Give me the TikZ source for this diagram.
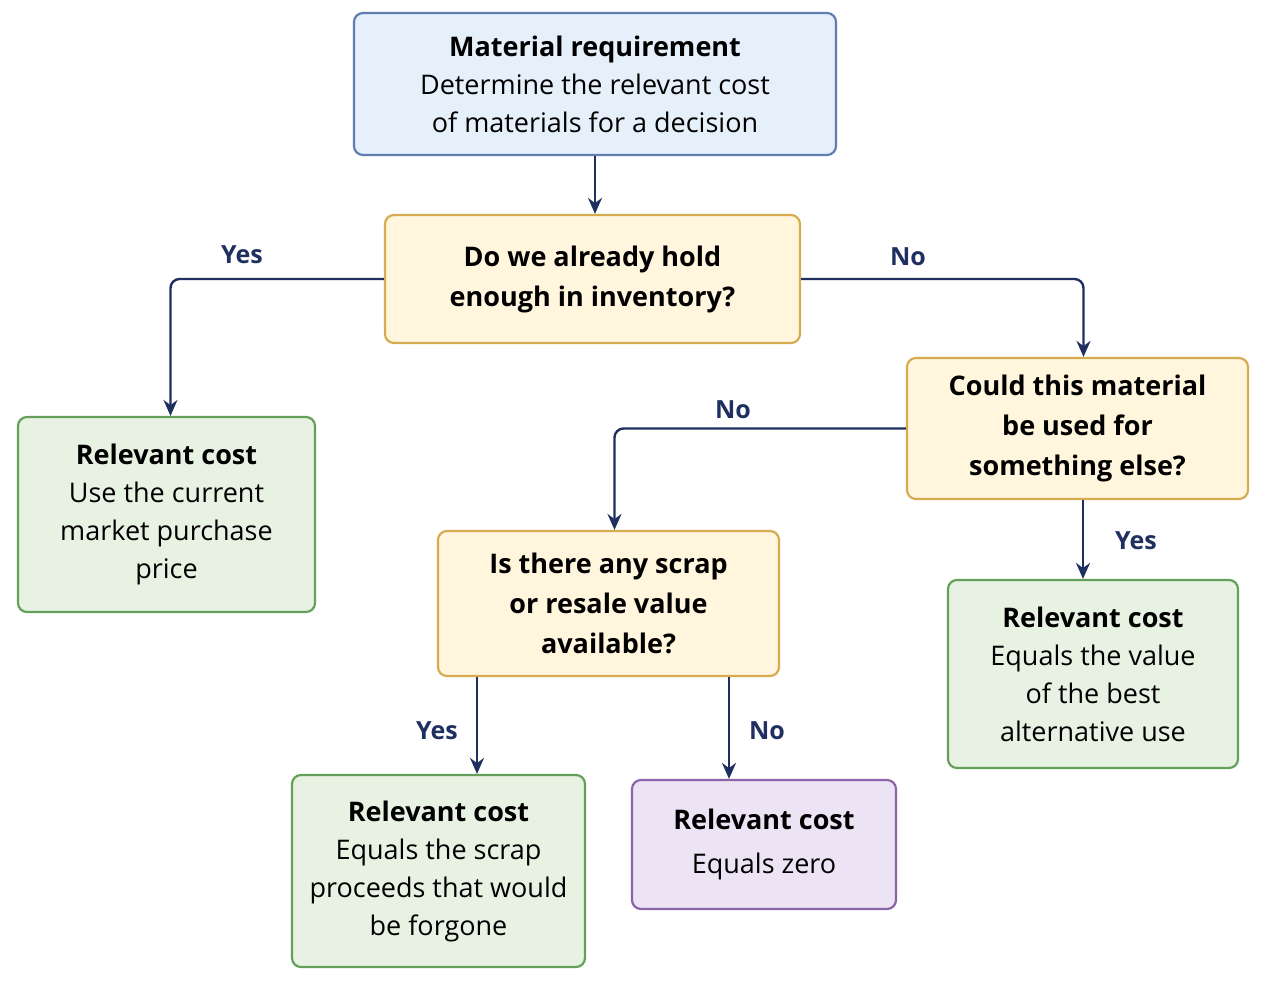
\documentclass[tikz,border=0pt]{standalone}
\usepackage{fontspec}
\setmainfont{Open Sans}
\usetikzlibrary{arrows.meta}
\definecolor{navy}{HTML}{1F3060}
\tikzset{
  box/.style={draw, rounded corners=9pt, line width=2.2pt, align=center, inner sep=0pt,
    font=\fontsize{27}{38}\selectfont},
  blue box/.style={box, fill={rgb,255:red,230;green,240;blue,250}, draw={rgb,255:red,95;green,125;blue,175}},
  ques box/.style={box, fill={rgb,255:red,255;green,246;blue,221}, draw={rgb,255:red,215;green,172;blue,80},
    font=\fontsize{27}{40}\bfseries\selectfont},
  cost box/.style={box, fill={rgb,255:red,232;green,242;blue,226}, draw={rgb,255:red,100;green,160;blue,90}},
  zero box/.style={box, fill={rgb,255:red,236;green,228;blue,245}, draw={rgb,255:red,140;green,100;blue,170}},
  link/.style={draw=navy, line width=2.4pt, rounded corners=9pt, -{Stealth[length=16pt,width=14pt]}},
  tag/.style={text=navy, font=\fontsize{25}{28}\bfseries\selectfont}
}
\begin{document}
\begin{tikzpicture}[x=1pt,y=1pt,yscale=-1]
\useasboundingbox (0,0) rectangle (1266,985);
% boxes
\node[blue box, minimum width=482, minimum height=142] (req) at (595,84)
  {\textbf{Material requirement}\\Determine the relevant cost\\of materials for a decision};
\node[ques box, minimum width=415, minimum height=128] (hold) at (592.5,279)
  {Do we already hold\\enough in inventory?};
\node[cost box, minimum width=297, minimum height=195] (market) at (166.5,514.5)
  {\textbf{Relevant cost}\\Use the current\\market purchase\\price};
\node[ques box, minimum width=341, minimum height=141] (else) at (1077.5,428.5)
  {Could this material\\be used for\\something else?};
\node[ques box, minimum width=341, minimum height=145] (scrap) at (608.5,603.5)
  {Is there any scrap\\or resale value\\available?};
\node[cost box, minimum width=290, minimum height=188] (best) at (1093,674)
  {\textbf{Relevant cost}\\Equals the value\\of the best\\alternative use};
\node[cost box, minimum width=293, minimum height=192] (proceeds) at (438.5,871)
  {\textbf{Relevant cost}\\Equals the scrap\\proceeds that would\\be forgone};
\node[zero box, minimum width=264, minimum height=129] (zero) at (764,844.5)
  {\textbf{Relevant cost}\\[6pt]Equals zero};
% links
\draw[link] (req.south) -- (req.south |- hold.north);
\draw[link] (hold.west) -| ([xshift=4]market.north);
\draw[link] (hold.east) -| ([xshift=6]else.north);
\draw[link] (else.west) -| ([xshift=6]scrap.north);
\draw[link] ([xshift=5.5]else.south) -- ([xshift=-10]best.north);
\draw[link] ([xshift=-131.5]scrap.south) -- ([xshift=38.5]proceeds.north);
\draw[link] ([xshift=120.5]scrap.south) -- ([xshift=-35]zero.north);
% labels
\node[tag] (t1) at (242,255) {Yes};
\node[tag] (t2) at (908,257) {No};
\node[tag] (t3) at (733,410) {No};
\node[tag] (t4) at (1136,541) {Yes};
\node[tag] (t5) at (437,731) {Yes};
\node[tag] (t6) at (767,731) {No};
\end{tikzpicture}
\end{document}
